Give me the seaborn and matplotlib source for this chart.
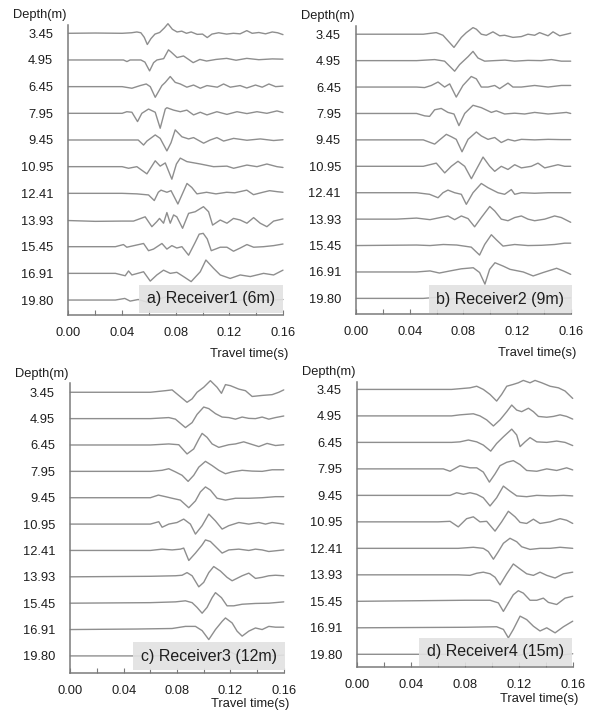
import matplotlib
matplotlib.use("Agg")
import matplotlib.pyplot as plt
import pandas as pd
import seaborn as sns
from matplotlib.patches import Rectangle
from matplotlib.ticker import MultipleLocator

# Source depths (m), one trace per depth, top to bottom
depths = ["3.45", "4.95", "6.45", "7.95", "9.45", "10.95",
          "12.41", "13.93", "15.45", "16.91", "19.80"]

panel_titles = ["a) Receiver1 (6m)", "b) Receiver2 (9m)",
                "c) Receiver3 (12m)", "d) Receiver4 (15m)"]

time_ticks = [0.00, 0.04, 0.08, 0.12, 0.16]

# Each trace: (travel time [s], normalised amplitude, + = up)
receiver1 = [
    [(0, 0), (0.02, 0.01), (0.04, 0.0), (0.047, 0.02), (0.051, 0.05), (0.054, 0.02), (0.0565, -0.15),
     (0.0588, -0.42), (0.0615, -0.2), (0.0645, -0.03), (0.068, 0.03), (0.0715, 0.2), (0.0742, 0.36),
     (0.0775, 0.15), (0.081, 0.05), (0.0845, 0.08), (0.088, 0.0), (0.0915, 0.05), (0.096, -0.04),
     (0.100, -0.03), (0.1035, -0.16), (0.107, -0.03), (0.112, 0.02), (0.118, -0.03), (0.123, 0.0),
     (0.128, -0.02), (0.133, 0.1), (0.137, 0.0), (0.142, 0.03), (0.147, -0.02), (0.152, 0.05),
     (0.156, 0.02), (0.16, -0.05)],
    [(0, 0), (0.03, 0.0), (0.041, 0.0), (0.0436, -0.06), (0.046, 0.0), (0.054, 0.0), (0.057, -0.08),
     (0.0605, -0.41), (0.0635, -0.1), (0.066, 0.0), (0.069, 0.03), (0.071, 0.05), (0.0746, 0.38),
     (0.0765, 0.3), (0.081, 0.09), (0.0858, 0.15), (0.0896, 0.02), (0.093, -0.1), (0.098, 0.02),
     (0.103, -0.04), (0.11, 0.02), (0.118, 0.06), (0.125, -0.01), (0.133, 0.06), (0.142, 0.01),
     (0.152, 0.04), (0.16, 0.03)],
    [(0, 0), (0.04, 0), (0.0473, -0.06), (0.0535, 0.04), (0.058, 0.1), (0.061, 0.0), (0.0647, -0.4),
     (0.0697, 0.04), (0.0722, 0.16), (0.0759, 0.38), (0.0796, 0.16), (0.0834, 0.1), (0.0883, -0.02),
     (0.0933, 0.06), (0.0983, -0.06), (0.1033, 0.04), (0.111, -0.02), (0.1157, 0.1), (0.1207, -0.02),
     (0.128, 0.04), (0.133, -0.05), (0.1395, 0.06), (0.1445, -0.02), (0.1495, 0.1), (0.1545, 0.0),
     (0.16, 0.02)],
    [(0, 0), (0.04, 0.0), (0.0435, 0.06), (0.0473, 0.04), (0.0515, -0.31), (0.0547, 0.0), (0.0597, 0.16),
     (0.0647, 0.04), (0.0684, -0.56), (0.0722, 0.16), (0.0734, 0.21), (0.0784, 0.12), (0.0834, 0.06),
     (0.0883, 0.12), (0.0933, -0.06), (0.0983, 0.04), (0.1033, -0.06), (0.1107, 0.06), (0.1182, -0.04),
     (0.1257, 0.06), (0.1331, -0.01), (0.1406, 0.06), (0.148, 0.0), (0.1555, 0.09), (0.16, 0.03)],
    [(0, 0), (0.045, 0.0), (0.052, 0.0), (0.056, -0.19), (0.0585, -0.04), (0.0647, 0.19), (0.0684, 0.06),
     (0.0734, -0.41), (0.0765, -0.1), (0.0796, 0.38), (0.0846, 0.12), (0.0896, 0.04), (0.0933, 0.09),
     (0.1008, -0.12), (0.1057, 0.0), (0.1107, 0.09), (0.1157, -0.04), (0.1232, 0.06), (0.1331, -0.01),
     (0.1431, 0.04), (0.153, -0.02), (0.16, 0.01)],
    [(0, 0), (0.04, 0), (0.0448, -0.06), (0.051, 0.0), (0.0585, -0.27), (0.0647, 0.22), (0.0684, 0.02),
     (0.0722, 0.14), (0.0771, -0.47), (0.0805, 0.1), (0.0834, 0.32), (0.0883, 0.19), (0.0983, 0.1),
     (0.1082, 0.0), (0.1182, 0.02), (0.1232, -0.06), (0.1331, 0.06), (0.1406, 0.0), (0.148, 0.1),
     (0.1555, 0.0), (0.16, -0.03)],
    [(0, 0), (0.04, 0), (0.051, -0.02), (0.0597, -0.06), (0.064, -0.27), (0.067, 0.04), (0.069, 0.12),
     (0.0734, 0.04), (0.0765, 0.1), (0.0816, -0.4), (0.0884, 0.37), (0.092, 0.22), (0.0958, -0.02),
     (0.103, 0.04), (0.11, -0.02), (0.118, 0.04), (0.124, 0.02), (0.133, 0.12), (0.138, -0.05),
     (0.145, 0.04), (0.15, 0.1), (0.156, 0.06), (0.16, 0.04)],
    [(0, -0.02), (0.02, -0.05), (0.04, -0.04), (0.0485, -0.04), (0.0572, 0.12), (0.0622, -0.25),
     (0.0659, -0.06), (0.0679, 0.06), (0.0709, -0.12), (0.0734, 0.28), (0.0759, -0.12), (0.0784, 0.19),
     (0.0808, 0.12), (0.0851, -0.31), (0.0896, 0.25), (0.0945, 0.31), (0.1007, 0.5), (0.1045, 0.31),
     (0.1075, -0.19), (0.1132, 0.0), (0.1182, -0.12), (0.1231, 0.06), (0.1281, 0.0), (0.1331, -0.12),
     (0.1381, 0.09), (0.143, -0.12), (0.148, -0.25), (0.153, -0.04), (0.16, 0.04)],
    [(0, 0), (0.035, 0.0), (0.041, 0.08), (0.0435, -0.02), (0.056, 0.12), (0.0597, -0.15), (0.0634, -0.09),
     (0.0697, 0.12), (0.0734, -0.09), (0.0771, 0.04), (0.0808, -0.05), (0.0846, 0.0), (0.0896, -0.32),
     (0.0945, 0.16), (0.0975, 0.47), (0.1005, 0.5), (0.1035, 0.29), (0.1065, -0.15), (0.1132, -0.02),
     (0.1182, -0.02), (0.1231, -0.17), (0.1281, -0.05), (0.1331, 0.08), (0.1381, -0.02), (0.1455, 0.0),
     (0.153, 0.04), (0.16, 0.1)],
    [(0, 0), (0.035, 0.0), (0.0423, -0.09), (0.0448, 0.09), (0.0473, -0.06), (0.056, 0.06), (0.061, -0.29),
     (0.0659, -0.06), (0.0709, 0.12), (0.0759, 0.0), (0.0808, 0.04), (0.0858, -0.12), (0.0915, -0.31),
     (0.0983, 0.06), (0.1025, 0.5), (0.1082, 0.19), (0.1132, -0.06), (0.1206, -0.19), (0.1281, -0.06),
     (0.1356, -0.12), (0.1455, 0.0), (0.153, -0.06), (0.16, 0.12)],
    [(0, 0), (0.035, 0.0), (0.042, 0.06), (0.046, -0.04), (0.052, 0.02), (0.06, -0.1), (0.068, 0.05),
     (0.075, 0.15), (0.082, -0.05), (0.09, -0.1), (0.1, 0.12), (0.108, -0.04), (0.115, 0.08),
     (0.125, -0.03), (0.135, 0.05), (0.145, -0.02), (0.16, 0.02)],
]

receiver2 = [
    [(0, 0), (0.04, 0), (0.05, 0.0), (0.0597, 0.06), (0.0647, -0.04), (0.0729, -0.5), (0.0784, -0.12),
     (0.0821, 0.06), (0.0871, 0.25), (0.0896, 0.19), (0.0933, 0.0), (0.097, -0.04), (0.102, 0.09),
     (0.107, -0.06), (0.1107, -0.04), (0.1169, -0.12), (0.1232, -0.09), (0.1281, 0.0), (0.1331, -0.04),
     (0.1368, 0.06), (0.1431, -0.06), (0.1468, 0.09), (0.1518, -0.06), (0.1568, 0.0), (0.16, 0.04)],
    [(0, 0), (0.045, 0), (0.0585, 0.04), (0.0659, -0.02), (0.0734, -0.4), (0.0771, -0.15), (0.0834, 0.15),
     (0.0871, 0.35), (0.0908, 0.1), (0.0958, -0.02), (0.103, 0.0), (0.111, 0.02), (0.1182, -0.02),
     (0.1281, 0.01), (0.138, 0.0), (0.1456, 0.04), (0.153, -0.02), (0.16, -0.02)],
    [(0, 0), (0.045, 0), (0.051, -0.02), (0.056, 0.06), (0.061, 0.19), (0.0659, 0.0), (0.0697, 0.12),
     (0.0746, -0.38), (0.0796, 0.06), (0.0858, 0.4), (0.0896, 0.31), (0.0933, 0.0), (0.0983, 0.0),
     (0.1033, 0.06), (0.107, -0.06), (0.1132, 0.15), (0.1169, 0.0), (0.1232, 0.0), (0.1331, 0.06),
     (0.1431, 0.0), (0.153, 0.06), (0.16, 0.06)],
    [(0, 0), (0.045, 0), (0.051, -0.09), (0.0547, -0.11), (0.0585, 0.14), (0.0634, 0.19), (0.0684, 0.04),
     (0.0729, -0.02), (0.0766, -0.46), (0.0809, 0.0), (0.0871, 0.31), (0.0933, 0.22), (0.1008, 0.04),
     (0.1045, 0.1), (0.1107, -0.02), (0.1182, 0.01), (0.1257, -0.02), (0.1331, 0.04), (0.1431, -0.02),
     (0.1505, 0.01), (0.1568, 0.04), (0.16, 0.0)],
    [(0, 0), (0.05, 0), (0.0585, -0.16), (0.0622, 0.0), (0.0672, 0.21), (0.0709, 0.12), (0.0746, 0.02),
     (0.0789, -0.45), (0.0834, 0.02), (0.0896, 0.3), (0.0933, 0.15), (0.0983, 0.02), (0.1033, 0.09),
     (0.1082, -0.1), (0.1132, 0.02), (0.1182, -0.04), (0.1232, 0.02), (0.1331, 0.0), (0.1431, 0.02),
     (0.153, 0.01), (0.16, 0.01)],
    [(0, 0), (0.05, 0), (0.0597, 0.12), (0.066, -0.25), (0.0709, 0.0), (0.0759, 0.19), (0.0809, 0.0),
     (0.0859, -0.47), (0.0896, -0.12), (0.0946, 0.35), (0.0996, 0.0), (0.1033, -0.19), (0.1082, 0.0),
     (0.1132, -0.12), (0.1182, 0.06), (0.1232, -0.06), (0.1306, 0.0), (0.1356, 0.12), (0.1406, -0.06),
     (0.1456, 0.0), (0.1505, 0.06), (0.1555, 0.0), (0.16, 0.0)],
    [(0, 0), (0.045, 0), (0.0547, -0.06), (0.061, -0.19), (0.0647, 0.0), (0.0684, 0.1), (0.0734, 0.0),
     (0.0784, -0.06), (0.0821, -0.44), (0.0871, 0.0), (0.0933, 0.35), (0.0983, 0.19), (0.1057, 0.0),
     (0.1107, -0.06), (0.1157, 0.12), (0.1182, -0.06), (0.1232, 0.0), (0.1331, -0.02), (0.1431, 0.0),
     (0.16, 0.0)],
    [(0, 0), (0.03, 0.0), (0.045, 0.04), (0.055, -0.02), (0.0684, 0.12), (0.0734, -0.02), (0.0784, 0.12),
     (0.0834, 0.02), (0.0883, -0.29), (0.0933, 0.06), (0.0996, 0.48), (0.1033, 0.31), (0.1082, 0.0),
     (0.1132, -0.06), (0.1182, 0.06), (0.1232, 0.12), (0.1281, 0.0), (0.1331, -0.06), (0.1406, 0.0),
     (0.148, 0.12), (0.153, 0.06), (0.16, -0.12)],
    [(0, 0), (0.045, 0.02), (0.055, 0.0), (0.065, 0.04), (0.075, 0.02), (0.0858, -0.06), (0.092, -0.36),
     (0.0958, 0.04), (0.1008, 0.41), (0.1045, 0.22), (0.1095, -0.02), (0.1182, 0.04), (0.1281, 0.0),
     (0.1381, 0.01), (0.148, 0.04), (0.1555, 0.09), (0.16, 0.09)],
    [(0, 0), (0.045, 0.0), (0.055, 0.04), (0.062, -0.04), (0.07, 0.04), (0.0784, 0.12), (0.0873, 0.16),
     (0.092, -0.02), (0.096, -0.46), (0.0995, 0.1), (0.1035, 0.35), (0.1097, 0.22), (0.1147, 0.1),
     (0.1246, 0.0), (0.132, -0.15), (0.1395, -0.02), (0.1495, 0.14), (0.1545, 0.04), (0.16, -0.09)],
    [(0, 0), (0.05, 0.0), (0.06, 0.04), (0.07, -0.03), (0.08, 0.05), (0.09, -0.04), (0.1, 0.03),
     (0.108, -0.05), (0.117, 0.18), (0.124, 0.0), (0.132, -0.05), (0.142, 0.04), (0.15, 0.0), (0.16, 0.02)],
]

receiver3 = [
    [(0, 0), (0.04, 0.0), (0.06, 0.0), (0.0713, 0.06), (0.0763, 0.09), (0.0813, -0.12), (0.0875, -0.38),
     (0.0913, -0.25), (0.095, 0.0), (0.1, 0.19), (0.105, 0.44), (0.11, 0.19), (0.1133, -0.04),
     (0.1163, 0.29), (0.12, 0.25), (0.1263, 0.12), (0.1313, 0.06), (0.1363, -0.16), (0.1438, -0.12),
     (0.1513, -0.09), (0.1563, 0.0), (0.16, 0.09)],
    [(0, 0), (0.06, 0.0), (0.0738, 0.04), (0.0788, -0.02), (0.0863, -0.34), (0.0913, -0.15), (0.095, 0.16),
     (0.1, 0.44), (0.1038, 0.38), (0.1088, 0.19), (0.1138, 0.06), (0.1188, 0.04), (0.1238, -0.02),
     (0.1288, 0.06), (0.1338, 0.01), (0.1388, 0.0), (0.1438, 0.06), (0.1488, -0.02), (0.1538, 0.04),
     (0.16, 0.1)],
    [(0, 0), (0.06, 0.0), (0.0738, 0.04), (0.0813, 0.01), (0.0875, -0.34), (0.0925, -0.15), (0.0963, 0.22),
     (0.0988, 0.44), (0.1025, 0.29), (0.1063, 0.04), (0.1113, -0.09), (0.1188, 0.01), (0.1238, 0.04),
     (0.13, 0.12), (0.135, 0.04), (0.1413, -0.06), (0.1475, 0.06), (0.1538, -0.02), (0.16, 0.01)],
    [(0, 0), (0.06, 0.0), (0.0688, 0.04), (0.0738, 0.1), (0.0788, -0.02), (0.0838, -0.15), (0.0883, -0.38),
     (0.0925, -0.15), (0.0963, 0.16), (0.1013, 0.38), (0.1063, 0.22), (0.1113, 0.04), (0.1163, -0.09),
     (0.1213, -0.02), (0.1288, 0.04), (0.1363, 0.01), (0.1438, 0.0), (0.1513, 0.06), (0.16, 0.06)],
    [(0, 0), (0.06, 0.0), (0.066, 0.1), (0.0713, 0.04), (0.0763, -0.02), (0.0825, -0.09), (0.0888, -0.38),
     (0.0938, -0.12), (0.0975, 0.22), (0.1013, 0.41), (0.105, 0.29), (0.11, -0.02), (0.1163, -0.09),
     (0.1238, -0.02), (0.1338, -0.02), (0.1438, 0.0), (0.1538, 0.04), (0.16, 0.04)],
    [(0, 0), (0.06, 0.0), (0.0663, 0.09), (0.0688, -0.12), (0.0738, 0.0), (0.08, 0.06), (0.085, 0.19),
     (0.09, 0.0), (0.0938, -0.38), (0.0988, -0.06), (0.1038, 0.38), (0.1088, 0.12), (0.1138, -0.19),
     (0.1188, -0.06), (0.1263, 0.06), (0.1338, 0.0), (0.1413, 0.06), (0.1463, 0.0), (0.1513, 0.06),
     (0.16, 0.0)],
    [(0, 0), (0.06, 0.0), (0.0688, 0.05), (0.0763, 0.02), (0.0825, 0.05), (0.085, 0.09), (0.0888, -0.38),
     (0.0938, -0.1), (0.0988, 0.21), (0.1013, 0.4), (0.105, 0.34), (0.11, 0.09), (0.1138, -0.1),
     (0.1188, 0.02), (0.1263, 0.05), (0.1338, 0.0), (0.1388, 0.05), (0.1438, 0.02), (0.1488, -0.04),
     (0.16, 0.02)],
    [(0, 0), (0.06, 0.02), (0.0788, 0.04), (0.0838, 0.06), (0.0875, 0.16), (0.0913, 0.04), (0.0963, -0.38),
     (0.1, -0.21), (0.1038, 0.16), (0.1075, 0.39), (0.1125, 0.22), (0.1175, -0.02), (0.1213, -0.15),
     (0.1288, 0.04), (0.1338, 0.14), (0.1388, -0.06), (0.1438, -0.02), (0.1488, 0.04), (0.1538, 0.06),
     (0.16, 0.04)],
    [(0, 0), (0.06, 0.02), (0.0788, 0.05), (0.0863, 0.09), (0.0913, 0.02), (0.095, -0.16), (0.0988, -0.38),
     (0.1025, -0.16), (0.1063, 0.21), (0.1088, 0.4), (0.1133, 0.21), (0.1175, -0.1), (0.1225, -0.1),
     (0.1288, -0.04), (0.1388, -0.01), (0.1488, 0.0), (0.16, 0.05)],
    [(0, 0), (0.05, 0.02), (0.0763, 0.04), (0.0863, 0.12), (0.0938, 0.12), (0.0988, -0.04), (0.1038, -0.38),
     (0.1088, 0.0), (0.1138, 0.31), (0.1163, 0.44), (0.1213, 0.25), (0.125, -0.06), (0.1288, -0.25),
     (0.1338, -0.06), (0.1388, 0.06), (0.1438, 0.0), (0.1488, 0.12), (0.1538, 0.09), (0.16, 0.09)],
    [(0, 0), (0.06, 0.0), (0.08, 0.02), (0.09, -0.04), (0.1, 0.0), (0.106, -0.06), (0.112, 0.08),
     (0.118, 0.2), (0.124, 0.05), (0.13, -0.06), (0.14, 0.02), (0.15, 0.0), (0.16, 0.03)],
]

receiver4 = [
    [(0, 0), (0.07, 0.0), (0.0837, 0.06), (0.0887, 0.12), (0.0936, 0.0), (0.0986, -0.19), (0.1035, -0.44),
     (0.1072, -0.19), (0.111, 0.12), (0.1159, 0.19), (0.1196, 0.25), (0.1233, 0.34), (0.1283, 0.25),
     (0.132, 0.34), (0.137, 0.25), (0.1432, 0.12), (0.1494, 0.06), (0.1543, -0.06), (0.16, -0.34)],
    [(0, 0), (0.07, 0.0), (0.0762, 0.04), (0.0862, 0.08), (0.0911, 0.0), (0.0961, -0.15), (0.1011, -0.38),
     (0.106, -0.15), (0.111, 0.16), (0.1147, 0.41), (0.1184, 0.22), (0.1221, 0.16), (0.1271, 0.29),
     (0.1308, 0.16), (0.1345, -0.02), (0.1407, -0.05), (0.1456, -0.02), (0.1506, 0.04), (0.1555, -0.02),
     (0.16, -0.12)],
    [(0, 0), (0.07, 0.0), (0.0762, 0.02), (0.0825, 0.09), (0.0887, 0.02), (0.0936, -0.1), (0.0991, -0.33),
     (0.1035, -0.04), (0.1085, 0.21), (0.1147, 0.5), (0.1184, 0.28), (0.1209, -0.16), (0.1246, 0.02),
     (0.1283, 0.18), (0.1333, 0.02), (0.1407, 0.0), (0.1481, 0.05), (0.1543, 0.0), (0.16, -0.12)],
    [(0, 0), (0.06, 0.0), (0.0639, 0.0), (0.0689, -0.09), (0.0763, 0.12), (0.0837, 0.04), (0.0887, 0.04),
     (0.0936, -0.12), (0.0981, -0.5), (0.1023, -0.19), (0.106, 0.12), (0.111, 0.25), (0.1159, 0.31),
     (0.1209, 0.16), (0.1258, -0.06), (0.1333, -0.09), (0.1407, 0.0), (0.1481, -0.06), (0.1555, 0.04),
     (0.16, -0.04)],
    [(0, 0), (0.065, 0.0), (0.0689, 0.0), (0.0738, 0.1), (0.0788, 0.04), (0.0837, 0.1), (0.0887, 0.04),
     (0.0936, -0.09), (0.0986, -0.4), (0.1035, -0.09), (0.1085, 0.35), (0.1134, 0.16), (0.1184, -0.02),
     (0.1258, -0.05), (0.1333, 0.0), (0.1432, -0.02), (0.1531, 0.0), (0.16, -0.02)],
    [(0, 0), (0.06, 0.0), (0.0689, 0.02), (0.075, -0.19), (0.0812, 0.12), (0.0862, 0.19), (0.0911, 0.0),
     (0.0961, 0.02), (0.1023, -0.35), (0.1072, 0.0), (0.1122, 0.4), (0.1172, 0.19), (0.1209, -0.02),
     (0.1258, -0.06), (0.1308, 0.1), (0.1357, -0.06), (0.1432, 0.0), (0.1506, 0.12), (0.1555, 0.06),
     (0.16, -0.06)],
    [(0, 0), (0.075, 0.0), (0.0862, 0.04), (0.0936, 0.0), (0.0973, -0.12), (0.1011, -0.41), (0.1048, -0.12),
     (0.1085, 0.19), (0.1134, 0.38), (0.1184, 0.25), (0.1221, 0.06), (0.1283, -0.04), (0.1357, 0.0),
     (0.1432, 0.0), (0.1506, 0.04), (0.16, 0.0)],
    [(0, 0), (0.075, 0.0), (0.0837, -0.02), (0.0887, 0.06), (0.0936, 0.1), (0.0986, 0.04), (0.1023, -0.09),
     (0.106, -0.38), (0.111, 0.04), (0.1159, 0.41), (0.1209, 0.22), (0.1258, 0.04), (0.1308, -0.02),
     (0.1357, 0.1), (0.1407, -0.02), (0.1469, -0.12), (0.1531, 0.04), (0.16, 0.1)],
    [(0, 0), (0.08, 0.04), (0.0986, 0.04), (0.1048, -0.06), (0.1085, -0.38), (0.1122, -0.06), (0.1159, 0.25),
     (0.1196, 0.4), (0.1233, 0.31), (0.1283, 0.04), (0.1333, 0.04), (0.1382, 0.12), (0.1419, -0.04),
     (0.1481, -0.12), (0.1543, 0.12), (0.16, 0.19)],
    [(0, 0), (0.08, 0.02), (0.1035, 0.04), (0.1085, -0.06), (0.1122, -0.38), (0.1159, -0.06), (0.1209, 0.44),
     (0.1258, 0.31), (0.1308, 0.06), (0.1357, -0.12), (0.1407, 0.0), (0.1469, -0.19), (0.1531, 0.04),
     (0.16, 0.25)],
    [(0, 0), (0.07, 0.0), (0.09, 0.02), (0.1, -0.03), (0.11, 0.03), (0.12, -0.04), (0.128, 0.05),
     (0.135, 0.18), (0.141, 0.0), (0.147, 0.06), (0.153, -0.02), (0.16, 0.02)],
]

receivers = [receiver1, receiver2, receiver3, receiver4]

# Panel geometry: axes rectangle (figure fraction), y-limits, label box, x-label offset
axes_rects = [[0.1155, 0.5570, 0.3617, 0.4078],
              [0.6008, 0.5584, 0.3616, 0.4050],
              [0.1186, 0.0530, 0.3599, 0.4079],
              [0.6025, 0.0615, 0.3633, 0.4016]]
y_limits = [(10.56, -0.31), (10.59, -0.31), (10.66, -0.34), (10.49, -0.29)]
label_boxes = [(0.329, 0.007, 0.671, 0.0966),
               (0.339, 0.0035, 0.666, 0.097),
               (0.294, 0.011, 0.712, 0.0966),
               (0.287, 0.0046, 0.708, 0.098)]
xlabel_offsets = [-28.0, -28.0, -22.0, -22.5]

trace_color = "#8e8e8e"
axis_color = "#7a7a7a"
text_color = "#1e1e1e"

sns.set_theme(style="white")
plt.rcParams["font.family"] = ["Liberation Sans", "DejaVu Sans"]

fig = plt.figure(figsize=(5.93, 7.11), dpi=100)
fig.patch.set_facecolor("white")

for k, traces in enumerate(receivers):
    ax = fig.add_axes(axes_rects[k])
    rows = []
    for i, trace in enumerate(traces):
        for t, a in trace:
            rows.append({"trace": i, "time": t, "level": i - a})
    df = pd.DataFrame(rows)
    sns.lineplot(data=df, x="time", y="level", units="trace", estimator=None,
                 sort=False, color=trace_color, linewidth=1.0, ax=ax, legend=False)
    for line in ax.get_lines():
        line.set_clip_on(False)
        line.set_solid_joinstyle("round")

    ax.set_xlim(0, 0.16)
    ax.set_ylim(*y_limits[k])
    ax.set_xlabel("")
    ax.set_ylabel("")
    ax.set_facecolor("white")

    for side in ["top", "right"]:
        ax.spines[side].set_visible(False)
    for side in ["left", "bottom"]:
        ax.spines[side].set_color(axis_color)
        ax.spines[side].set_linewidth(1.1)

    ax.set_xticks(time_ticks)
    ax.set_xticklabels([f"{v:.2f}" for v in time_ticks])
    ax.xaxis.set_minor_locator(MultipleLocator(0.02))
    ax.tick_params(axis="x", which="both", direction="in", length=3.5, width=0.8,
                   color=axis_color, pad=8.5, labelsize=9.3, labelcolor=text_color, bottom=True)
    ax.set_yticks(range(len(depths)))
    ax.set_yticklabels(depths)
    ax.tick_params(axis="y", length=0, pad=11, labelsize=9.3, labelcolor=text_color)

    ax.annotate("Depth(m)", xy=(0, 1), xycoords="axes fraction", xytext=(-1.5, 7),
                textcoords="offset points", ha="right", va="center",
                fontsize=9.3, color=text_color)
    ax.annotate("Travel time(s)", xy=(1, 0), xycoords="axes fraction",
                xytext=(4, xlabel_offsets[k]), textcoords="offset points",
                ha="right", va="center", fontsize=9.3, color=text_color)

    bx, by, bw, bh = label_boxes[k]
    ax.add_patch(Rectangle((bx, by), bw, bh, transform=ax.transAxes,
                           facecolor="#e2e2e2", edgecolor="none", alpha=0.9,
                           zorder=5, clip_on=False))
    ax.text(bx + bw / 2, by + bh / 2, panel_titles[k], transform=ax.transAxes,
            ha="center", va="center", fontsize=11.5, color=text_color, zorder=6)

fig.savefig("out.png", dpi=100, facecolor="white")
